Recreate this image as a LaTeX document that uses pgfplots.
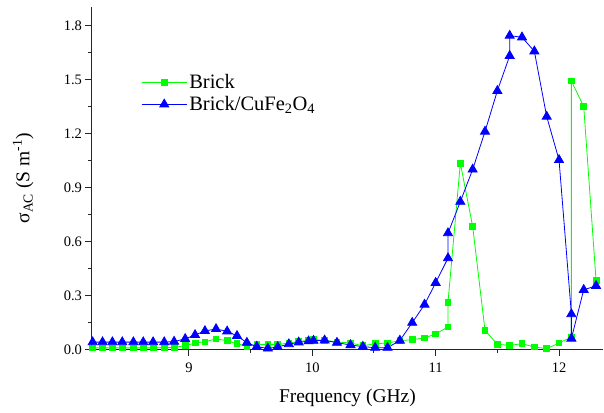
\documentclass[border=0pt]{standalone}
\usepackage{fontspec}
\setmainfont{Liberation Serif}
\usepackage{pgfplots}
\pgfplotsset{compat=1.18}
\definecolor{cgreen}{rgb}{0,1,0}
\definecolor{cblue}{rgb}{0,0,1}
\begin{document}
\begin{tikzpicture}
\begin{axis}[
  scale only axis,
  width=512.5bp, height=343.3bp,
  xmin=8.21, xmax=12.36,
  ymin=0, ymax=1.907,
  axis lines*=left,
  axis line style={line width=1.1bp, black!85},
  xtick={9,10,11,12},
  minor x tick num=1,
  ytick={0,0.3,0.6,0.9,1.2,1.5,1.8},
  minor y tick num=1,
  tick align=outside,
  major tick length=6bp,
  minor tick length=3.5bp,
  tick style={line width=1bp, black!85},
  /pgf/number format/assume math mode=true,
  yticklabel style={/pgf/number format/fixed, /pgf/number format/fixed zerofill, /pgf/number format/precision=1},
  xticklabel style={yshift=-4bp},
  ticklabel style={font=\rmfamily\fontsize{14.5bp}{16bp}\selectfont},
  xlabel={Frequency (GHz)},
  ylabel={σ\textsubscript{AC} (S m\textsuperscript{-1})},
  label style={font=\rmfamily\fontsize{19.5bp}{22bp}\selectfont},
  ylabel style={at={(axis description cs:-0.133,0.5)}, anchor=center},
  xlabel style={at={(axis description cs:0.5,-0.14)}, anchor=center},
  legend style={at={(axis description cs:0.091,0.815)}, anchor=north west, draw=none, fill=none,
    font=\rmfamily\fontsize{20.5bp}{23bp}\selectfont, row sep=2.5bp},
  legend cell align=left,
  legend image code/.code={\draw[mark repeat=2,mark phase=2] plot coordinates {(0cm,0cm) (0.8cm,0cm) (1.6cm,0cm)};},
]
\addplot[cgreen, line width=0.8bp, mark=square*, mark size=2.85bp, mark options={fill=cgreen, draw=cgreen, solid}] table {
x y
8.22 0.010
8.30 0.010
8.38 0.010
8.46 0.010
8.55 0.010
8.63 0.010
8.71 0.010
8.80 0.012
8.88 0.013
8.97 0.022
9.05 0.037
9.13 0.044
9.22 0.060
9.31 0.050
9.39 0.033
9.47 0.020
9.55 0.028
9.64 0.028
9.72 0.028
9.81 0.037
9.89 0.046
9.97 0.052
10.01 0.056
10.10 0.052
10.20 0.043
10.31 0.037
10.41 0.022
10.51 0.033
10.61 0.037
10.71 0.050
10.81 0.056
10.91 0.065
11.00 0.088
11.10 0.126
11.10 0.263
11.20 1.037
11.30 0.685
11.40 0.107
11.50 0.030
11.60 0.024
11.70 0.033
11.80 0.015
11.90 0.006
12.00 0.037
12.10 0.070
12.10 1.494
12.20 1.352
12.30 0.385
};
\addlegendentry{Brick}
\addplot[cblue, line width=0.8bp, mark=triangle*, mark size=5.2bp, mark options={fill=cblue, draw=cblue, solid}] table {
x y
8.22 0.042
8.30 0.042
8.38 0.042
8.46 0.042
8.55 0.042
8.63 0.042
8.71 0.042
8.80 0.042
8.88 0.045
8.97 0.060
9.05 0.082
9.13 0.104
9.22 0.115
9.31 0.102
9.39 0.077
9.47 0.039
9.55 0.017
9.64 0.007
9.72 0.015
9.81 0.031
9.89 0.041
9.97 0.047
10.01 0.050
10.10 0.052
10.20 0.039
10.31 0.026
10.41 0.017
10.51 0.011
10.61 0.011
10.71 0.051
10.81 0.150
10.91 0.251
11.00 0.372
11.10 0.509
11.10 0.648
11.20 0.823
11.30 1.002
11.40 1.213
11.50 1.439
11.60 1.634
11.60 1.746
11.70 1.737
11.80 1.659
11.90 1.296
12.00 1.055
12.10 0.198
12.10 0.062
12.20 0.333
12.30 0.355
};
\addlegendentry{Brick/CuFe\textsubscript{2}O\textsubscript{4}}
\end{axis}
\path (-91.5bp,-63bp) rectangle (512.5bp,350bp);
\end{tikzpicture}
\end{document}
